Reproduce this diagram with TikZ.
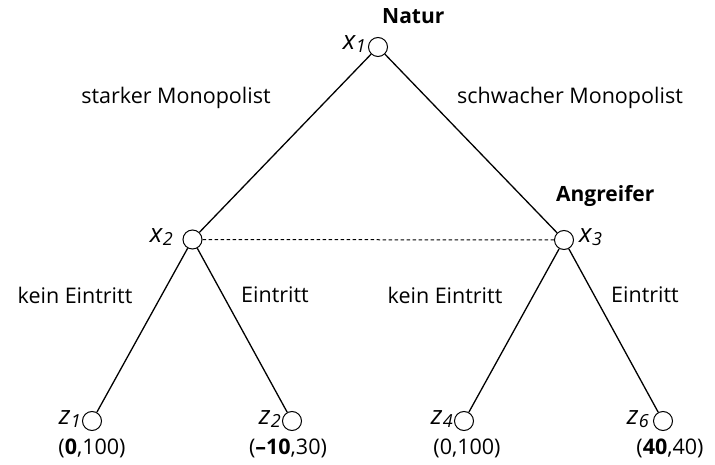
\documentclass[tikz,border=0pt]{standalone}
\usepackage{fontspec}
\setmainfont{Open Sans}
\newcommand{\varlab}[2]{#1\kern0.5pt\raisebox{-2.5pt}{\fontsize{18}{20}\selectfont #2}}
\begin{document}
\begin{tikzpicture}[x=1pt,y=-1pt,
  dec/.style={circle,draw,line width=1pt,minimum size=19pt,inner sep=0pt},
  edge/.style={line width=1.3pt},
  lbl/.style={font=\fontsize{21.5}{24}\selectfont,inner sep=0pt},
  head/.style={font=\fontsize{21}{24}\selectfont\bfseries,inner sep=0pt},
  var/.style={font=\fontsize{26}{28}\selectfont\itshape,inner sep=0pt},
  pay/.style={font=\fontsize{21.5}{24}\selectfont,inner sep=0pt}]
\useasboundingbox (0,0) rectangle (715,465);
% decision and end nodes
\node[dec] (x1) at (378,47) {};
\node[dec] (x2) at (192.5,239.5) {};
\node[dec] (x3) at (564,240) {};
\node[dec] (z1) at (92,421) {};
\node[dec] (z2) at (292,421) {};
\node[dec] (z4) at (464,421) {};
\node[dec] (z6) at (663,421) {};
% branches
\draw[edge] (x1) -- (x2);
\draw[edge] (x1) -- (x3);
\draw[edge] (x2) -- (z1);
\draw[edge] (x2) -- (z2);
\draw[edge] (x3) -- (z4);
\draw[edge] (x3) -- (z6);
\draw[line width=1pt,dash pattern=on 3.5pt off 2.5pt] (x2) -- (x3);
% player names
\node[head,anchor=west] (natur) at (382,16) {Natur};
\node[head,anchor=west] (angr) at (556,196) {Angreifer};
% node variables
\node[var,anchor=east] (lx1) at (366,44) {\varlab{x}{1}};
\node[var,anchor=east] (lx2) at (173,237) {\varlab{x}{2}};
\node[var,anchor=west] (lx3) at (579,237) {\varlab{x}{3}};
\node[var,anchor=east] (lz1) at (81,419) {\varlab{z}{1}};
\node[var,anchor=east] (lz2) at (281,419) {\varlab{z}{2}};
\node[var,anchor=east] (lz4) at (453,419) {\varlab{z}{4}};
\node[var,anchor=east] (lz6) at (649,419) {\varlab{z}{6}};
% move labels
\node[lbl] (m1) at (176,98) {starker Monopolist};
\node[lbl] (m2) at (570,98) {schwacher Monopolist};
\node[lbl] (e1) at (75,295) {kein Eintritt};
\node[lbl] (e2) at (275,295) {Eintritt};
\node[lbl] (e3) at (445,295) {kein Eintritt};
\node[lbl] (e4) at (645,295) {Eintritt};
% payoffs
\node[pay] (p1) at (92,448) {(\textbf{0},100)};
\node[pay] (p2) at (288,448) {(\textbf{–10},30)};
\node[pay] (p4) at (467,448) {(0,100)};
\node[pay] (p6) at (670,448) {(\textbf{40},40)};
\end{tikzpicture}
\end{document}
